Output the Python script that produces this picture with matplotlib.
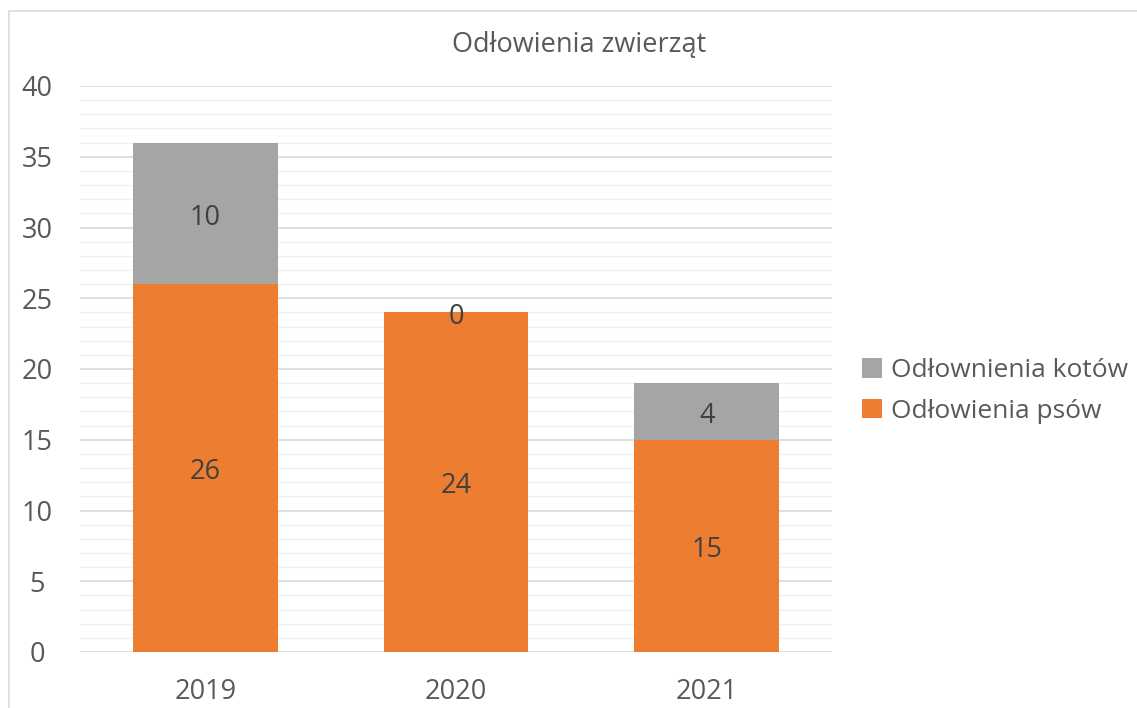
import matplotlib.pyplot as plt
from matplotlib.patches import Rectangle
import numpy as np

# data
years = ['2019', '2020', '2021']
dogs = [26, 24, 15]
cats = [10, 0, 4]
dog_label = 'Odłowienia psów'
cat_label = 'Odłownienia kotów'
title = 'Odłowienia zwierząt'

orange = '#ED7D31'
gray = '#A5A5A5'
txt = '#595959'

plt.rcParams['font.family'] = ['Open Sans', 'DejaVu Sans']

fig = plt.figure(figsize=(11.37, 7.08), dpi=100)
ax = fig.add_axes([80 / 1137, 1 - 652 / 708, 752 / 1137, 566 / 708])

# chart frame (light border)
fig.patches.append(Rectangle((9 / 1137, -0.1), 1.2, 1 - 11 / 708 + 0.1,
                             transform=fig.transFigure, fill=False,
                             edgecolor='#D9D9D9', linewidth=1.2))

x = np.arange(len(years))
w = 0.576
ax.bar(x, dogs, w, color=orange, label=dog_label, zorder=3)
ax.bar(x, cats, w, bottom=dogs, color=gray, label=cat_label, zorder=3)

# data labels, centred in each segment
for i in range(len(years)):
    ax.annotate(str(dogs[i]), (x[i], dogs[i] / 2), xytext=(0, -3),
                textcoords='offset points', ha='center', va='center',
                fontsize=19.5, color='#404040', zorder=4)
    ax.annotate(str(cats[i]), (x[i], dogs[i] + cats[i] / 2), xytext=(0, -3),
                textcoords='offset points', ha='center', va='center',
                fontsize=19.5, color='#404040', zorder=4)

ax.set_xlim(-0.5, 2.5)
ax.set_ylim(0, 40)
ax.set_yticks(range(0, 41, 5))
ax.set_yticks(range(0, 41, 1), minor=True)
ax.set_xticks(x)
ax.set_xticklabels(years)
ax.grid(axis='y', which='major', color='#D9D9D9', linewidth=1.2, zorder=0)
ax.grid(axis='y', which='minor', color='#F0F0F0', linewidth=1.0, zorder=0)
for s in ax.spines.values():
    s.set_visible(False)
ax.tick_params(axis='both', which='both', length=0, labelsize=19.5, colors=txt)
ax.tick_params(axis='x', pad=19)
for lbl in ax.get_yticklabels():
    lbl.set_horizontalalignment('center')
ax.tick_params(axis='y', pad=31)

fig.text(579 / 1137, 1 - 45 / 708, title, ha='center', va='center',
         fontsize=19.5, color=txt)

h, l = ax.get_legend_handles_labels()
leg = fig.legend(h[::-1], l[::-1], loc='center left',
                 bbox_to_anchor=(838 / 1137, 1 - 391 / 708), frameon=False,
                 fontsize=19, handlelength=0.75, handleheight=0.75,
                 handletextpad=0.35, labelspacing=0.6, labelcolor=txt)

fig.savefig('out.png', dpi=100)
